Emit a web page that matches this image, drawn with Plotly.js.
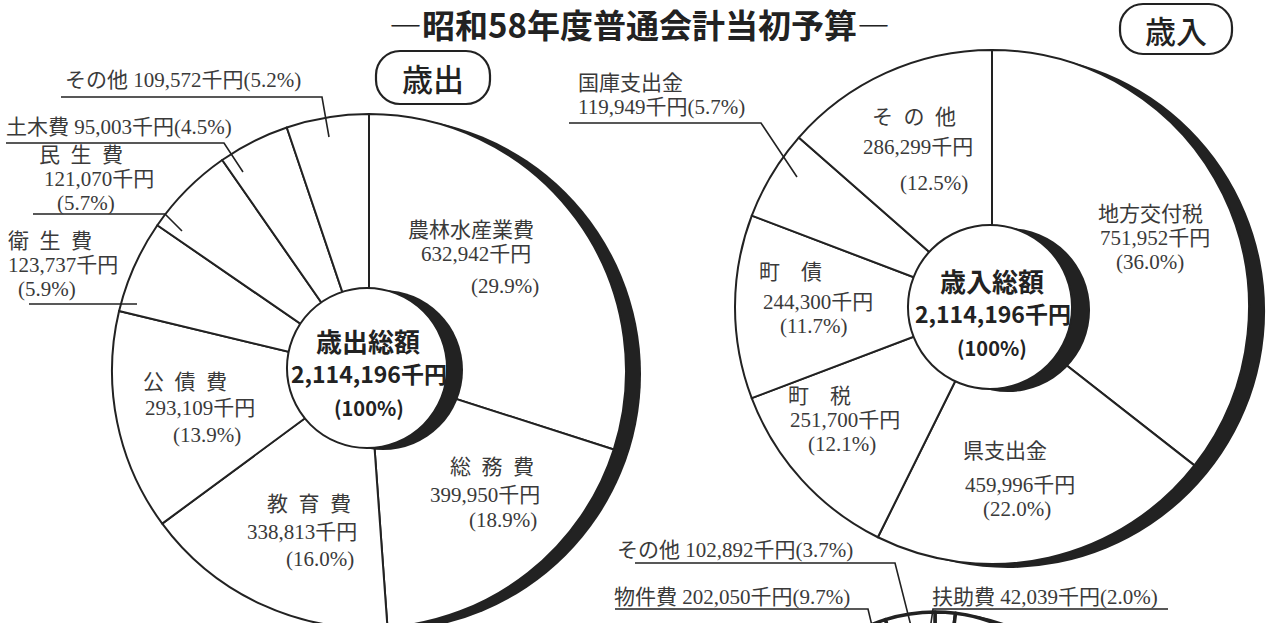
<!DOCTYPE html>
<html>
<head>
<meta charset="utf-8">
<script src="https://cdn.plot.ly/plotly-3.0.1.min.js"></script>
<style>
html,body{margin:0;padding:0;width:1277px;height:623px;overflow:hidden;background:#fff}
#wrap{width:1277px;height:623px;overflow:hidden;position:relative}
#chart{width:1277px;height:950px}
</style>
</head>
<body>
<div id="wrap"><div id="chart"></div></div>
<script>
// ---------------- data ----------------
const chartTitle = '―昭和58年度普通会計当初予算―';
const expTitle = '歳出';
const revTitle = '歳入';
const expTotalName = '歳出総額';
const revTotalName = '歳入総額';
const totalPercent = '100%';

const expCategories = ['農林水産業費','総務費','教育費','公債費','衛生費','民生費','土木費','その他'];
const expValues     = [632942, 399950, 338813, 293109, 123737, 121070, 95003, 109572];
const expPercents   = ['29.9%','18.9%','16.0%','13.9%','5.9%','5.7%','4.5%','5.2%'];

const revCategories = ['地方交付税','県支出金','町税','町債','国庫支出金','その他'];
const revValues     = [751952, 459996, 251700, 244300, 119949, 286299];
const revPercents   = ['36.0%','22.0%','12.1%','11.7%','5.7%','12.5%'];

const natCategories = ['扶助費','その他','物件費'];
const natValues     = [42039, 102892, 202050];
const natPercents   = ['2.0%','3.7%','9.7%'];

// ---------------- helpers ----------------
const W = 1277, H = 950;
const X = px => px / W;
const Y = py => 1 - py / H;
const fmt = v => v.toLocaleString('en-US');
const sum = a => a.reduce((s, v) => s + v, 0);
const expTotal = sum(expValues);
const revTotal = sum(revValues);
const natRest = expTotal - sum(natValues);

const INK = '#222';
const labelFont = {family: '"Liberation Serif", "Noto Sans CJK JP", serif', size: 21, color: '#3a3a3a'};
const boldFont = {family: '"Noto Sans CJK JP", sans-serif', color: INK};

function dom(cx, cy, r) {
  return {x: [X(cx - r), X(cx + r)], y: [Y(cy + r), Y(cy - r)]};
}
function disk(cx, cy, r, fill, lw) {
  return {type: 'pie', values: [1], labels: ['_'], domain: dom(cx, cy, r), sort: false,
    marker: {colors: [fill], line: {color: INK, width: lw}}, textinfo: 'none', textposition: 'none',
    hoverinfo: 'skip', showlegend: false};
}
function slices(cats, vals, cx, cy, r, dir, lw) {
  return {type: 'pie', labels: cats, values: vals, domain: dom(cx, cy, r), sort: false,
    direction: dir, rotation: 0, marker: {colors: cats.map(() => '#fff'), line: {color: INK, width: lw || 2}},
    textinfo: 'none', textposition: 'none', hoverinfo: 'skip', showlegend: false};
}
function ann(text, x, y, anchor, font) {
  return {text, x: X(x), y: Y(y), xref: 'paper', yref: 'paper', showarrow: false, borderpad: 0,
    xanchor: anchor || 'center', yanchor: 'middle', font: font || labelFont};
}
function poly(pts, w) {
  const d = pts.map((p, i) => (i ? 'L' : 'M') + X(p[0]) + ',' + Y(p[1])).join(' ');
  return {type: 'path', xref: 'paper', yref: 'paper', path: d, line: {color: INK, width: w || 1.6}};
}
function pill(x0, y0, x1, y1, r) {
  const k = 0.5523 * r;
  const P = (x, y) => X(x) + ',' + Y(y);
  const d = 'M' + P(x0 + r, y0) + ' L' + P(x1 - r, y0) +
    ' C' + P(x1 - r + k, y0) + ' ' + P(x1, y0 + r - k) + ' ' + P(x1, y0 + r) +
    ' L' + P(x1, y1 - r) +
    ' C' + P(x1, y1 - r + k) + ' ' + P(x1 - r + k, y1) + ' ' + P(x1 - r, y1) +
    ' L' + P(x0 + r, y1) +
    ' C' + P(x0 + r - k, y1) + ' ' + P(x0, y1 - r + k) + ' ' + P(x0, y1 - r) +
    ' L' + P(x0, y0 + r) +
    ' C' + P(x0, y0 + r - k) + ' ' + P(x0 + r - k, y0) + ' ' + P(x0 + r, y0) + ' Z';
  return {type: 'path', xref: 'paper', yref: 'paper', path: d, line: {color: INK, width: 2.2}};
}

// ---------------- geometry (styling) ----------------
const L = {cx: 369, cy: 371, r: 257, sdx: 15, sdy: 3, hx: 367, hy: 368, hr: 80, hdx: 16, hdy: 2};
const R = {cx: 992, cy: 307, r: 257, sdx: 16, sdy: 4, hx: 990, hy: 307, hr: 82, hdx: 18, hdy: 3};
const B = {cx: 935, cy: 777, r: 165, sdx: 12, sdy: 1};

// label placement per category
const expPlace = [
  {mode: 3, lines: [[471, 230], [476, 254], [505, 286]]},
  {mode: 3, sp: '\u2002', lines: [[492, 467], [485, 495], [503, 520]]},
  {mode: 3, sp: '\u2002', lines: [[309, 504], [302, 532], [320, 559]]},
  {mode: 3, sp: '\u2002', lines: [[185, 382], [200, 408], [207, 435]]},
  {mode: 3, sp: '\u2002', lines: [[7, 241, 'left'], [7, 265, 'left'], [17, 289, 'left']]},
  {mode: 3, sp: '\u2002', lines: [[81, 155], [99, 179], [86, 203]]},
  {mode: 1, lines: [[5, 127, 'left']]},
  {mode: 1, lines: [[64, 80, 'left']]}
];
const revPlace = [
  {mode: 3, lines: [[1150, 214], [1155, 238], [1150, 262]]},
  {mode: 3, lines: [[1005, 451], [1020, 485], [1017, 509]]},
  {mode: 3, sp: '\u3000', lines: [[819, 396], [845, 420], [842, 444]]},
  {mode: 3, sp: '\u3000', lines: [[790, 272], [818, 302], [813, 326]]},
  {mode: 2, lines: [[577, 83, 'left'], [577, 107, 'left']]},
  {mode: 3, sp: '\u2002', lines: [[914, 117], [918, 147], [934, 183]]}
];
const natPlace = [
  {mode: 1, lines: [[931, 597, 'left']]},
  {mode: 1, lines: [[616, 550, 'left']]},
  {mode: 1, lines: [[613, 597, 'left']]}
];

function labelAnns(cats, vals, pcts, place) {
  const out = [];
  cats.forEach((c, i) => {
    const p = place[i];
    const name = p.sp ? c.split('').join(p.sp) : c;
    const v = fmt(vals[i]) + '千円';
    const pc = '(' + pcts[i] + ')';
    let texts;
    if (p.mode === 1) texts = [name + ' ' + v + pc];
    else if (p.mode === 2) texts = [name, v + pc];
    else texts = [name, v, pc];
    texts.forEach((t, j) => {
      const ln = p.lines[j];
      out.push(ann(t, ln[0], ln[1], ln[2] || 'center'));
    });
  });
  return out;
}

// ---------------- traces ----------------
const data = [
  disk(L.cx + L.sdx, L.cy + L.sdy, L.r, INK, 0),
  disk(R.cx + R.sdx, R.cy + R.sdy, R.r, INK, 0),
  disk(B.cx + B.sdx, B.cy + B.sdy, B.r, INK, 0),
  slices(expCategories, expValues, L.cx, L.cy, L.r, 'clockwise'),
  slices(revCategories, revValues, R.cx, R.cy, R.r, 'clockwise'),
  slices(natCategories.concat(['']), natValues.concat([natRest]), B.cx, B.cy, B.r, 'counterclockwise', 3.5),
  disk(L.hx + L.hdx, L.hy + L.hdy, L.hr, INK, 0),
  disk(L.hx, L.hy, L.hr, '#fff', 2),
  disk(R.hx + R.hdx, R.hy + R.hdy, R.hr, INK, 0),
  disk(R.hx, R.hy, R.hr, '#fff', 2)
];

// ---------------- annotations ----------------
let annotations = [];
annotations.push(ann('<b>' + chartTitle + '</b>', 639, 24, 'center', Object.assign({size: 33}, boldFont)));
annotations.push(ann(expTitle, 433, 78, 'center', {family: '"Noto Sans CJK JP", sans-serif', size: 31, color: INK, weight: 500}));
annotations.push(ann(revTitle, 1176, 30, 'center', {family: '"Noto Sans CJK JP", sans-serif', size: 31, color: INK, weight: 500}));

annotations.push(ann('<b>' + expTotalName + '</b>', 368, 340, 'center', Object.assign({size: 26}, boldFont)));
annotations.push(ann('<b>' + fmt(expTotal) + '千円</b>', 369, 373, 'center', Object.assign({size: 23}, boldFont)));
annotations.push(ann('<b>(' + totalPercent + ')</b>', 369, 407, 'center', Object.assign({size: 20}, boldFont)));
annotations.push(ann('<b>' + revTotalName + '</b>', 992, 280, 'center', Object.assign({size: 26}, boldFont)));
annotations.push(ann('<b>' + fmt(revTotal) + '千円</b>', 993, 313, 'center', Object.assign({size: 23}, boldFont)));
annotations.push(ann('<b>(' + totalPercent + ')</b>', 992, 348, 'center', Object.assign({size: 20}, boldFont)));

annotations = annotations
  .concat(labelAnns(expCategories, expValues, expPercents, expPlace))
  .concat(labelAnns(revCategories, revValues, revPercents, revPlace))
  .concat(labelAnns(natCategories, natValues, natPercents, natPlace));

// ---------------- shapes (leader lines, title boxes) ----------------
const shapes = [
  poly([[61, 97], [322, 97], [329, 137]]),
  poly([[6, 143], [224, 143], [243, 172]]),
  poly([[33, 214], [165, 214], [182, 231]]),
  poly([[29, 304], [137, 304]]),
  poly([[569, 123], [761, 123], [797, 177]]),
  poly([[635, 563], [895, 563], [912, 630]]),
  poly([[615, 609], [868, 609], [873, 630]]),
  poly([[1168, 609], [933, 609], [930, 630]]),
  pill(376, 51, 490, 104, 24),
  pill(1120, 4, 1232, 54, 23)
];

const layout = {
  width: W, height: H,
  margin: {l: 0, r: 0, t: 0, b: 0},
  paper_bgcolor: '#fff', plot_bgcolor: '#fff',
  showlegend: false,
  annotations, shapes
};

Plotly.newPlot('chart', data, layout, {staticPlot: true, displayModeBar: false});
</script>
</body>
</html>
